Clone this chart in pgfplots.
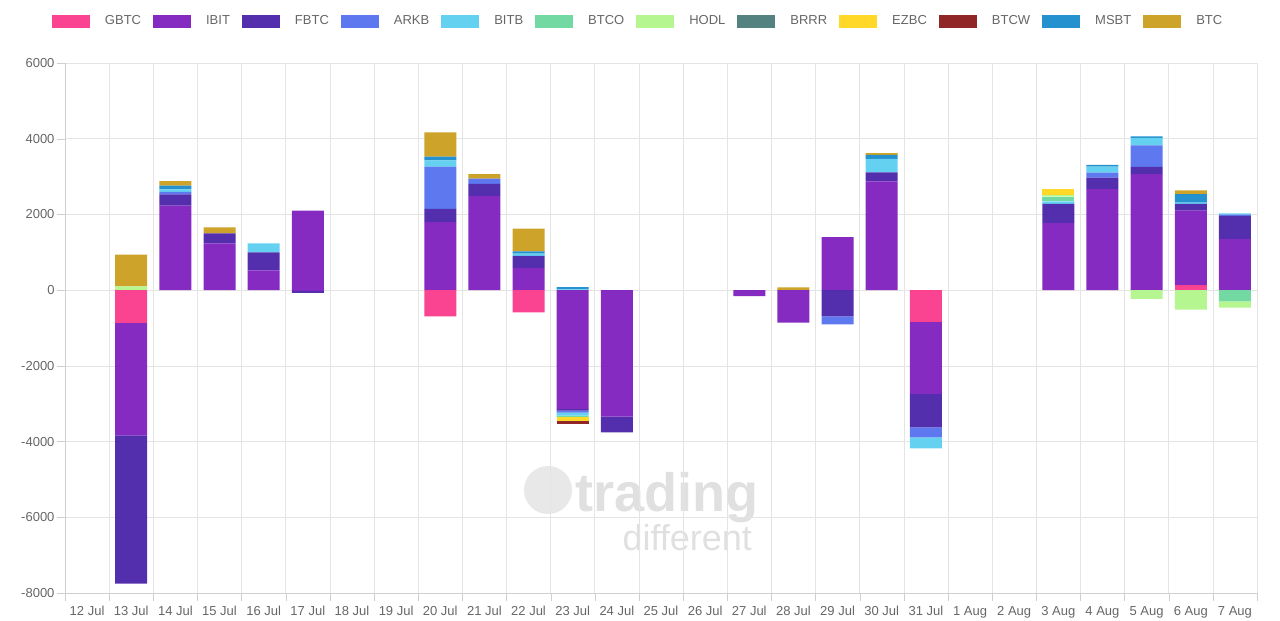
\documentclass[border=0pt]{standalone}
\usepackage{pgfplots}
\pgfplotsset{compat=1.18}
\usepackage{pgfplotstable}
\usepackage{fontspec}
\setmainfont{Liberation Sans}
\definecolor{cGBTC}{HTML}{FA3A8B}
\definecolor{cIBIT}{HTML}{7E20BE}
\definecolor{cFBTC}{HTML}{4A24AA}
\definecolor{cARKB}{HTML}{5571EE}
\definecolor{cBITB}{HTML}{5CCFF0}
\definecolor{cBTCO}{HTML}{6CD79D}
\definecolor{cHODL}{HTML}{B2F68B}
\definecolor{cBRRR}{HTML}{4B7B7A}
\definecolor{cEZBC}{HTML}{FFD61C}
\definecolor{cBTCW}{HTML}{8A1A1A}
\definecolor{cMSBT}{HTML}{1A8BCC}
\definecolor{cBTC}{HTML}{CA9E1F}
\definecolor{txt}{HTML}{666666}
\definecolor{gridc}{HTML}{E4E4E4}
\definecolor{axc}{HTML}{CFCFCF}

\pgfplotstableread{
x GBTC IBIT FBTC ARKB BITB BTCO HODL BRRR EZBC BTCW MSBT BTC
0 0 0 0 0 0 0 0 0 0 0 0 0
1 0 0 0 0 0 0 100 0 0 0 0 840
2 0 2230 300 65 65 0 0 0 0 0 100 120
3 0 1235 265 0 0 0 0 0 0 0 0 155
4 0 520 475 0 240 0 0 0 0 0 0 0
5 0 2100 0 0 0 0 0 0 0 0 0 0
8 0 1795 350 1120 160 0 0 0 0 0 105 640
9 0 2490 315 140 0 0 0 0 0 0 0 120
10 0 590 315 0 60 0 0 0 0 0 60 600
11 0 0 0 0 20 0 0 0 0 0 60 0
16 0 0 0 0 0 0 0 0 0 0 0 70
17 0 1400 0 0 0 0 0 0 0 0 0 0
18 0 2870 240 0 355 0 0 0 0 0 110 45
22 0 1768 510 0 65 130 40 0 165 0 0 0
23 0 2668 305 133 158 0 0 0 0 0 42 0
24 0 3065 190 570 195 0 0 0 0 0 40 0
25 133 1968 177 0 35 0 0 0 0 0 222 100
26 0 1345 620 30 30 0 0 0 0 0 0 0
}\pos

\pgfplotstableread{
x GBTC IBIT FBTC ARKB BITB BTCO HODL BRRR EZBC BTCW MSBT BTC
1 -862 -2977 -3916 0 0 0 0 0 0 0 0 0
5 0 -20 -50 0 0 0 0 0 0 0 0 0
8 -690 0 0 0 0 0 0 0 0 0 0 0
10 -585 0 0 0 0 0 0 0 0 0 0 0
11 0 -3135 -50 -50 -80 -30 0 0 -110 -80 0 0
12 0 -3340 -420 0 0 0 0 0 0 0 0 0
15 0 -160 0 0 0 0 0 0 0 0 0 0
16 0 -860 0 0 0 0 0 0 0 0 0 0
17 0 0 -690 -213 0 0 0 0 0 0 0 0
19 -840 -1910 -875 -262 -290 0 0 0 0 0 0 0
24 0 0 0 0 0 0 -233 0 0 0 0 0
25 0 0 0 0 0 0 -512 0 0 0 0 0
26 0 0 0 0 0 -300 -160 0 0 0 0 0
}\negt

\pgfplotsset{
  base/.style={
    at={(65bp,28bp)}, anchor=south west,
    scale only axis, width=1192bp, height=530bp,
    xmin=-0.5, xmax=26.5, ymin=-8000, ymax=6000,
    ybar stacked, bar width=32bp,
  },
  every axis plot/.append style={draw=none, fill opacity=0.95},
}

\begin{document}
\begin{tikzpicture}
\useasboundingbox (0,0) rectangle (1280bp,621bp);
\fill[black!9] (548bp,131bp) circle (24bp);
\node[text=black!12, font=\bfseries\fontsize{54bp}{54bp}\selectfont, anchor=base west] at (572bp,109bp) {trading};
\node[text=black!12, font=\fontsize{36bp}{36bp}\selectfont, anchor=base west] at (619bp,70bp) {different};
\begin{axis}[base,
  axis line style={axc},
  axis x line*=bottom, axis y line*=left,
  xtick={0,...,26},
  xticklabels={12 Jul,13 Jul,14 Jul,15 Jul,16 Jul,17 Jul,18 Jul,19 Jul,20 Jul,21 Jul,22 Jul,23 Jul,24 Jul,25 Jul,26 Jul,27 Jul,28 Jul,29 Jul,30 Jul,31 Jul,1 Aug,2 Aug,3 Aug,4 Aug,5 Aug,6 Aug,7 Aug},
  minor xtick={-0.5,0.5,...,26.5},
  xminorgrids, ymajorgrids,
  grid style={gridc, line width=0.6bp},
  minor grid style={gridc, line width=0.6bp},
  ytick={-8000,-6000,...,6000},
  major x tick style={draw=none},
  minor x tick style={axc},
  y tick style={axc},
  tick align=outside,
  major tick length=8bp, minor tick length=8bp,
  ticklabel style={font=\fontsize{13bp}{15bp}\selectfont, text=txt},
  /pgf/number format/assume math mode=true,
  /pgf/number format/set thousands separator={},
  yticklabel style={xshift=1bp},
  xticklabel style={yshift=-2bp},
  legend columns=12,
  legend style={draw=none, fill=none, at={(0.48,1.079)}, anchor=center,
    font=\fontsize{13bp}{15bp}\selectfont, text=txt,
    /tikz/every odd column/.append style={column sep=15bp},
    /tikz/every even column/.append style={column sep=12bp},
    nodes={inner xsep=0bp}},
  legend image code/.code={\path[#1,draw=none] (0bp,-6.5bp) rectangle (38bp,6.5bp);},
]
\addplot[fill=cGBTC] table[x=x,y=GBTC]{\pos};
\addplot[fill=cIBIT] table[x=x,y=IBIT]{\pos};
\addplot[fill=cFBTC] table[x=x,y=FBTC]{\pos};
\addplot[fill=cARKB] table[x=x,y=ARKB]{\pos};
\addplot[fill=cBITB] table[x=x,y=BITB]{\pos};
\addplot[fill=cBTCO] table[x=x,y=BTCO]{\pos};
\addplot[fill=cHODL] table[x=x,y=HODL]{\pos};
\addplot[fill=cBRRR] table[x=x,y=BRRR]{\pos};
\addplot[fill=cEZBC] table[x=x,y=EZBC]{\pos};
\addplot[fill=cBTCW] table[x=x,y=BTCW]{\pos};
\addplot[fill=cMSBT] table[x=x,y=MSBT]{\pos};
\addplot[fill=cBTC] table[x=x,y=BTC]{\pos};
\legend{GBTC,IBIT,FBTC,ARKB,BITB,BTCO,HODL,BRRR,EZBC,BTCW,MSBT,BTC}
\end{axis}
\begin{axis}[base, hide axis]
\addplot[fill=cGBTC] table[x=x,y=GBTC]{\negt};
\addplot[fill=cIBIT] table[x=x,y=IBIT]{\negt};
\addplot[fill=cFBTC] table[x=x,y=FBTC]{\negt};
\addplot[fill=cARKB] table[x=x,y=ARKB]{\negt};
\addplot[fill=cBITB] table[x=x,y=BITB]{\negt};
\addplot[fill=cBTCO] table[x=x,y=BTCO]{\negt};
\addplot[fill=cHODL] table[x=x,y=HODL]{\negt};
\addplot[fill=cBRRR] table[x=x,y=BRRR]{\negt};
\addplot[fill=cEZBC] table[x=x,y=EZBC]{\negt};
\addplot[fill=cBTCW] table[x=x,y=BTCW]{\negt};
\addplot[fill=cMSBT] table[x=x,y=MSBT]{\negt};
\addplot[fill=cBTC] table[x=x,y=BTC]{\negt};
\end{axis}
\end{tikzpicture}
\end{document}
